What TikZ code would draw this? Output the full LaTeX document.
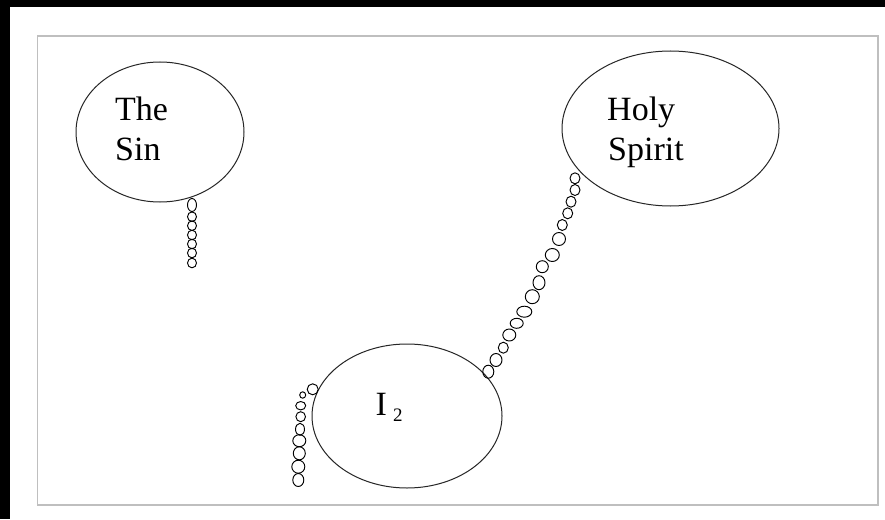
\documentclass[tikz,border=0pt]{standalone}
\usepackage{fontspec}
\setmainfont{Liberation Serif}
\usetikzlibrary{shapes.geometric}
\begin{document}
\begin{tikzpicture}[x=1pt,y=-1pt,
  bubble/.style={draw=black!85, line width=1pt, ellipse, inner sep=0pt},
  ring/.style={draw=black, line width=0.95pt},
  frame/.style={draw=black!25, line width=1.6pt},
  lbl/.style={inner sep=0pt, anchor=base west, font=\fontsize{34}{40}\selectfont},
  sublbl/.style={inner sep=0pt, anchor=base west, font=\fontsize{19}{20}\selectfont}]
% background and frame
\fill[black] (0,0) rectangle (885,519);
\fill[white] (10,7) rectangle (885,519);
\draw[frame] (37.5,36) rectangle (878,505);
% bubbles
\node[bubble, minimum width=168pt, minimum height=140pt] (sin) at (160,132) {};
\node[bubble, minimum width=217pt, minimum height=155pt] (spirit) at (670.5,128.5) {};
\node[bubble, minimum width=190pt, minimum height=144pt] (me) at (407,416) {};
% labels
\node[lbl] (sinA) at (115,120) {The};
\node[lbl] (sinB) at (115,160) {Sin};
\node[lbl] (spiritA) at (607,120.7) {Holy};
\node[lbl] (spiritB) at (608,160) {Spirit};
\node[lbl] (meA) at (375.5,415) {I};
\node[sublbl] (meB) at (393,421) {2};
% chains
\foreach \x/\y/\a/\b in {192/205/4.5/6.5, 192/216.7/4.5/4.8, 192/225.7/4.5/4.8,
  192/235/4.5/4.8, 192/244/4.5/4.8, 192/253/4.5/4.8, 192/263/4.5/4.8}
  \draw[ring] (\x,\y) ellipse [x radius=\a pt, y radius=\b pt];
\foreach \x/\y/\a/\b in {575/178.3/5/5.5, 575/190/5/5.5, 571/201.7/5/5.5,
  567.7/213.3/5/5.5, 562.3/225/5/5.5, 559/239/6.5/6.5, 552.3/255/7/6.5,
  542.3/266.7/6/6, 539/282.7/6/7, 532.3/296.7/7/7, 524.3/311.7/7.5/5.5,
  516.7/323.3/6.5/5, 509.3/335/6.5/6, 503.3/347.7/5/5.5, 496/360/6/6.5,
  488.3/371.7/5.5/6.5}
  \draw[ring] (\x,\y) ellipse [x radius=\a pt, y radius=\b pt];
\foreach \x/\y/\a/\b in {312.7/389.3/5.5/5.5, 302.7/395/3/3.2, 300.7/405.7/5/4.2,
  300.7/416.7/4.8/5, 300/429.3/4.5/6, 299.3/440.7/6.5/6, 299.3/453.3/6/6.5,
  298.3/466.7/6.5/6.5, 298.3/480/5.5/6.5}
  \draw[ring] (\x,\y) ellipse [x radius=\a pt, y radius=\b pt];
\end{tikzpicture}
\end{document}
